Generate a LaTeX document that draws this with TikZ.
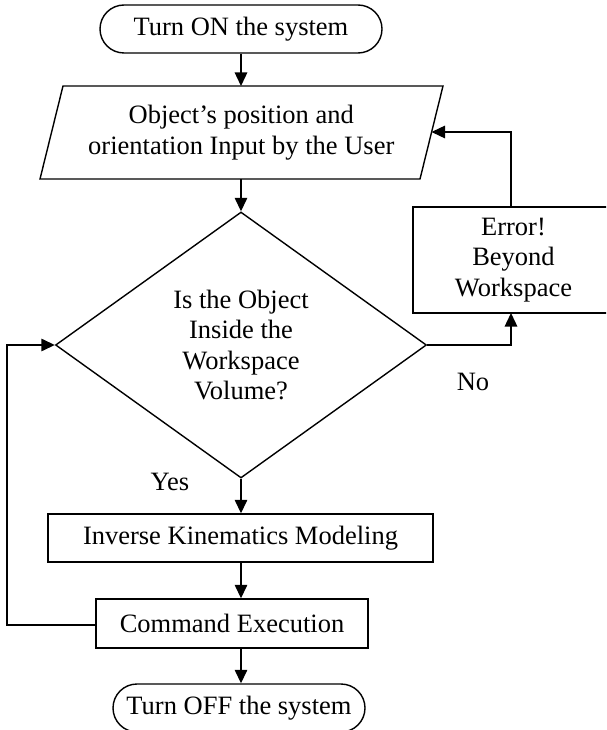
\documentclass[tikz,border=0pt]{standalone}
\usepackage{fontspec}
\setmainfont{Liberation Serif}
\usetikzlibrary{arrows.meta,shapes.geometric}
\tikzset{
  base/.style={draw, line width=1.4pt, inner sep=0pt, align=center,
    font=\fontsize{26.5}{30.5}\selectfont},
  term/.style={base, rectangle, rounded corners=24pt, minimum height=48pt},
  procbox/.style={base, rectangle},
  decbox/.style={base, diamond, aspect=1.395, minimum width=371pt, minimum height=266pt},
  lbl/.style={inner sep=0pt, font=\fontsize{26.5}{30.5}\selectfont},
  conn/.style={line width=1.4pt, -{Triangle[length=13.5pt,width=12.5pt]}},
  plain/.style={line width=1.4pt}
}
\begin{document}
\begin{tikzpicture}[x=1pt,y=-1pt]
\useasboundingbox (0,0) rectangle (606,730);
\clip (0,0) rectangle (606,730);
\node[term, minimum width=282pt] (start) at (241,29) {Turn ON the system};
\node[lbl, align=center] (input) at (241.25,132.5) {Object’s position and\\orientation Input by the User};
\draw[plain] (input.center) ++(-178.25,-46.5) coordinate (inTL)
  -- ++(380,0) coordinate (inTR)
  -- ++(-23,93) coordinate (inBR)
  -- ++(-380,0) coordinate (inBL) -- cycle;
\coordinate (inN) at (241,86);
\coordinate (inS) at (241,179);
\coordinate (inE) at (431.5,132);
\node[decbox] (dec) at (241,345) {Is the Object\\Inside the\\Workspace\\Volume?};
\node[procbox, minimum width=201pt, minimum height=106pt] (err) at (513.5,260) {Error!\\Beyond\\Workspace};
\coordinate (errS) at (511,313);
\coordinate (errN) at (511,207);
\node[procbox, minimum width=385pt, minimum height=48pt] (ik) at (240.5,538) {Inverse Kinematics Modeling};
\node[procbox, minimum width=272pt, minimum height=49pt] (cmd) at (232,623.5) {Command Execution};
\node[term, minimum width=252pt] (stop) at (239,708) {Turn OFF the system};
\node[lbl] (yes) at (170,482) {Yes};
\node[lbl] (no) at (473,382) {No};
\coordinate (loopL) at (7,625);
% connectors
\draw[conn] (start.south -| inN) -- (inN);
\draw[conn] (inS) -- (dec.north);
\draw[conn] (dec.south) -- (dec.south |- ik.north);
\draw[conn] (ik.south -| dec.south) -- (cmd.north -| dec.south);
\draw[conn] (cmd.south -| dec.south) -- (stop.north -| dec.south);
\draw[conn] (dec.east) -| (errS);
\draw[conn] (errN) |- (inE);
\draw[conn] (cmd.west |- loopL) -- (loopL) |- (dec.west);
\end{tikzpicture}
\end{document}
